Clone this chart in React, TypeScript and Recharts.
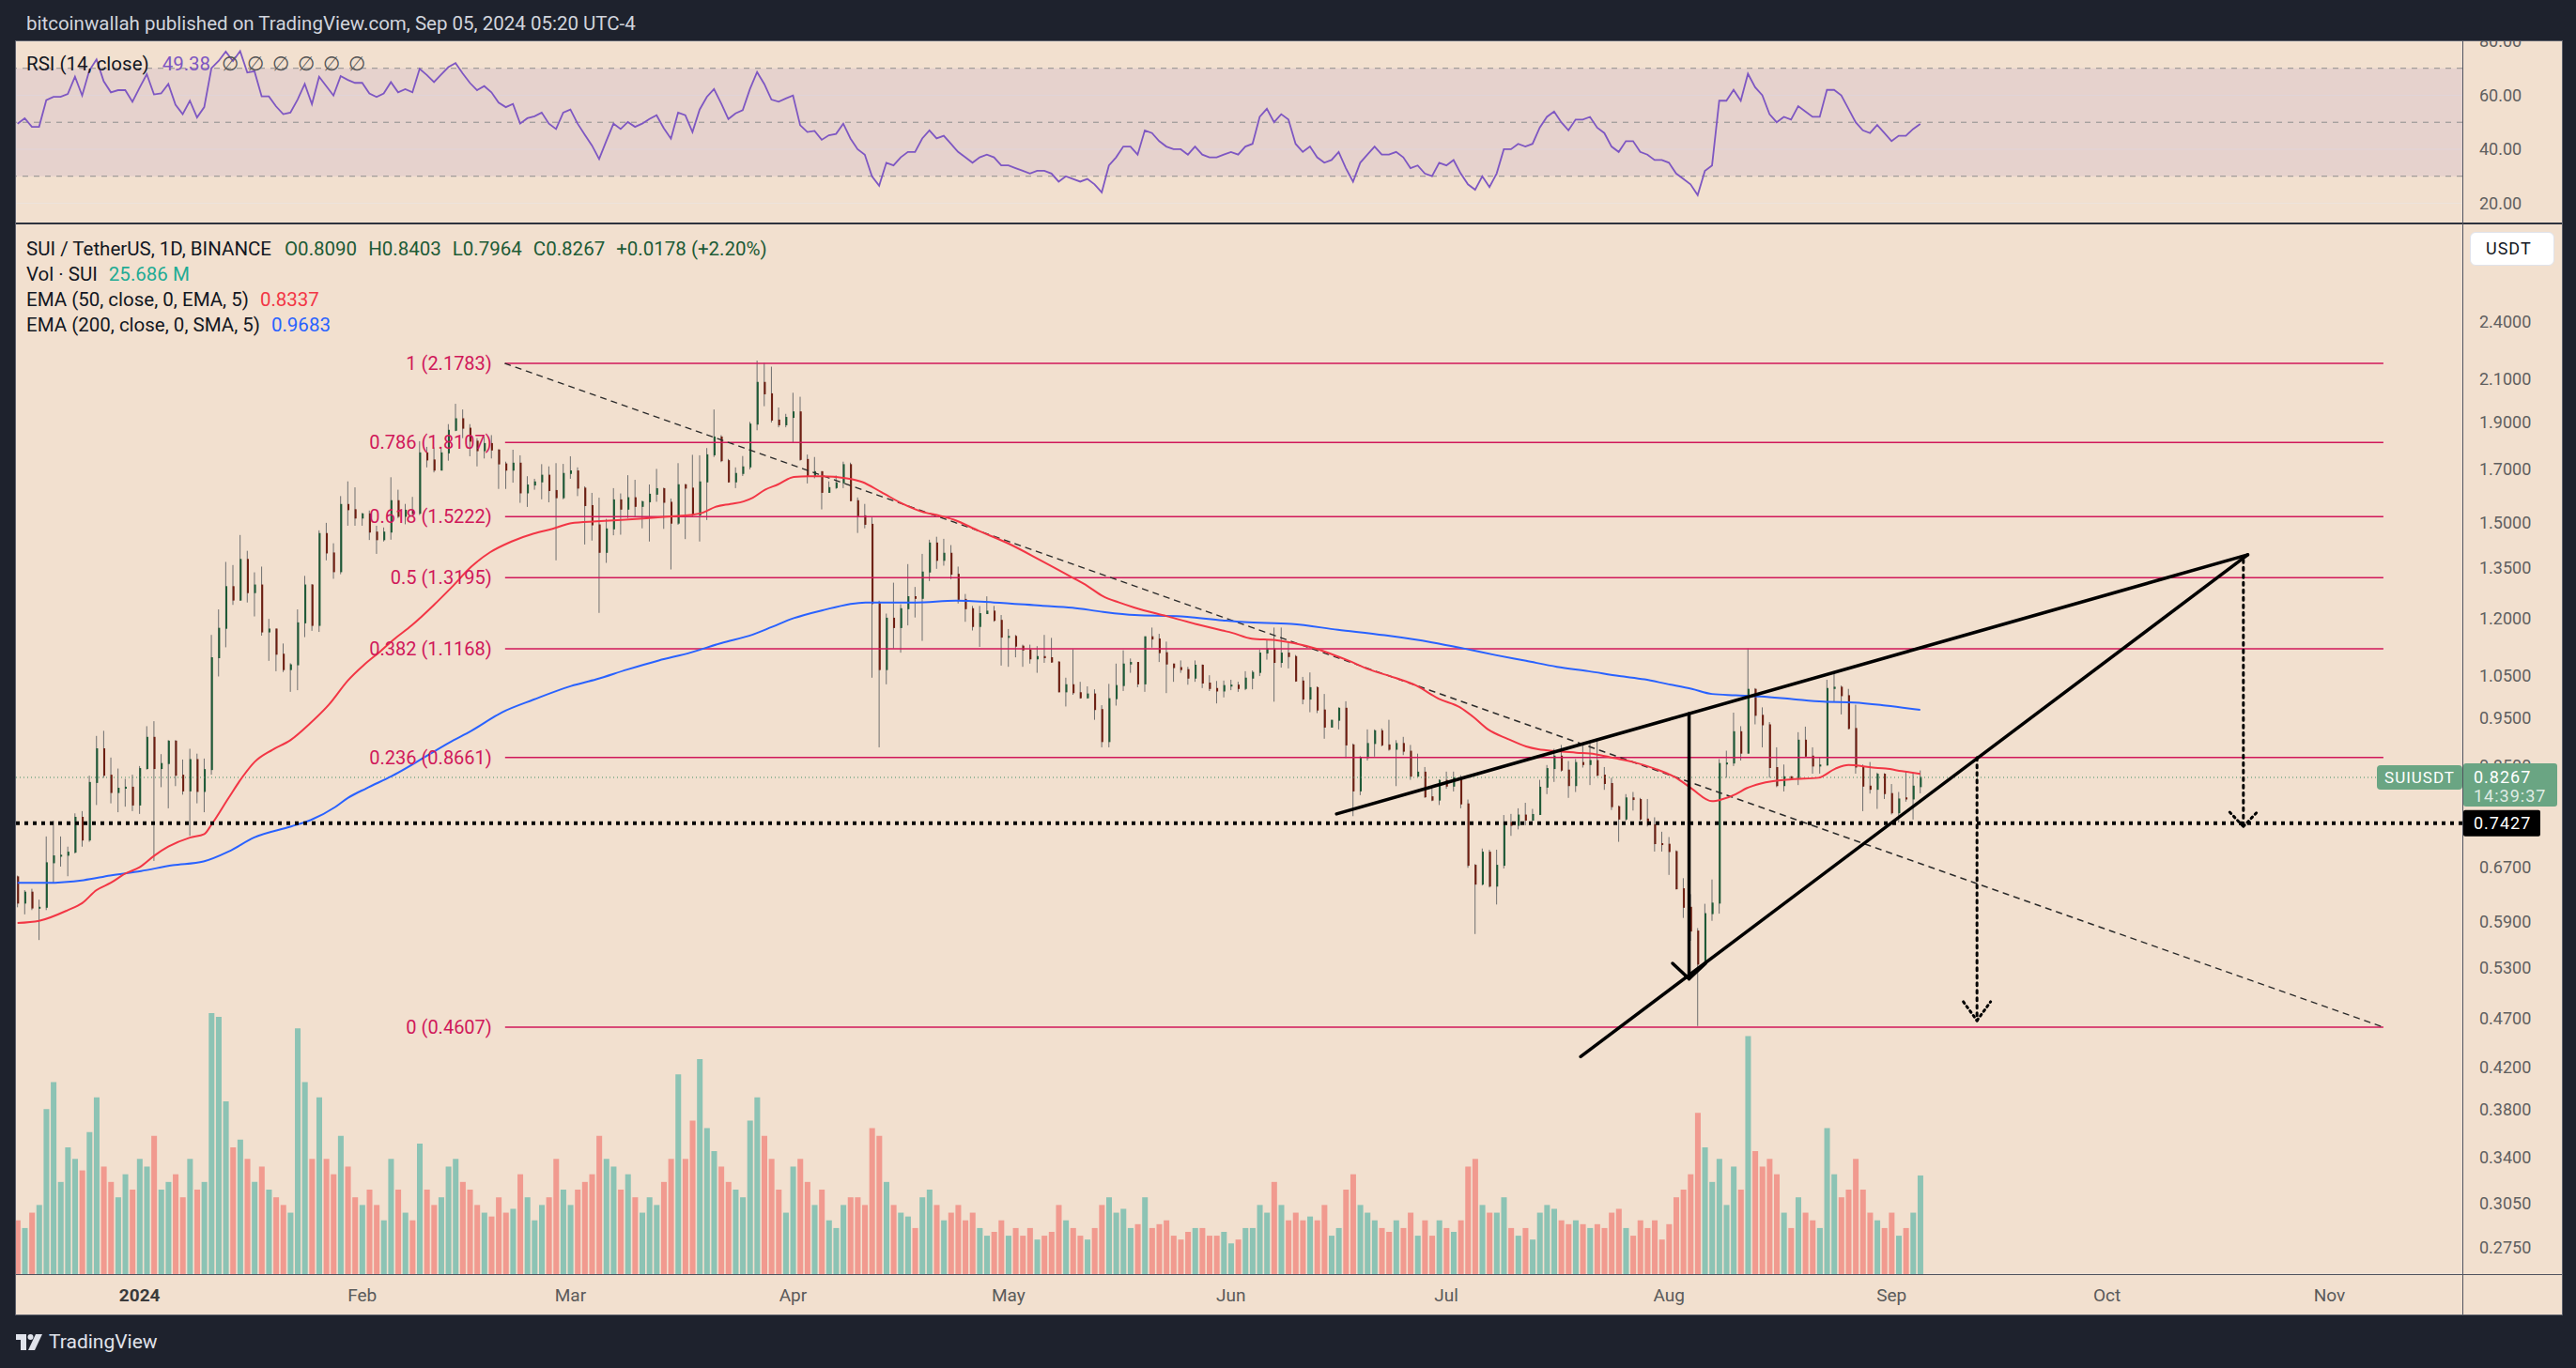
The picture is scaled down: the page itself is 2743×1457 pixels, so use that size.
import {
  Bar,
  CartesianGrid,
  Cell,
  ComposedChart,
  Line,
  LineChart,
  ReferenceArea,
  ReferenceLine,
  XAxis,
  YAxis,
} from "recharts";

// day index: 0 = Jan 1 2024, first candle is Dec 15 2023
const firstDay = -17;

const opens = [
  0.655, 0.616, 0.632, 0.609, 0.61, 0.677, 0.688, 0.689, 0.694, 0.753,
  0.714, 0.817, 0.884, 0.831, 0.798, 0.806, 0.808, 0.775, 0.844, 0.908,
  0.844, 0.854, 0.9, 0.831, 0.801, 0.862, 0.8, 0.842, 1.094, 1.172,
  1.292, 1.252, 1.377, 1.274, 1.297, 1.162, 1.17, 1.103, 1.064, 1.076,
  1.187, 1.297, 1.18, 1.463, 1.398, 1.338, 1.566, 1.547, 1.517, 1.532,
  1.468, 1.442, 1.468, 1.58, 1.523, 1.545, 1.534, 1.767, 1.738, 1.697,
  1.767, 1.863, 1.914, 1.872, 1.816, 1.776, 1.806, 1.779, 1.722, 1.697,
  1.725, 1.609, 1.639, 1.651, 1.677, 1.618, 1.591, 1.684, 1.694, 1.627,
  1.562, 1.493, 1.4, 1.479, 1.583, 1.549, 1.591, 1.559, 1.576, 1.604,
  1.625, 1.574, 1.499, 1.64, 1.627, 1.528, 1.651, 1.759, 1.834, 1.735,
  1.651, 1.684, 1.71, 1.89, 2.084, 2.029, 1.908, 1.887, 1.92, 1.945,
  1.74, 1.675, 1.691, 1.611, 1.629, 1.647, 1.719, 1.58, 1.525, 1.495,
  1.242, 1.064, 1.2, 1.174, 1.227, 1.262, 1.257, 1.337, 1.431, 1.374,
  1.397, 1.33, 1.254, 1.227, 1.177, 1.213, 1.22, 1.194, 1.148, 1.15,
  1.124, 1.114, 1.091, 1.097, 1.094, 1.083, 1.01, 1.027, 1.008, 0.996,
  1.005, 0.969, 0.899, 0.994, 1.025, 1.078, 1.082, 1.029, 1.149, 1.143,
  1.107, 1.078, 1.069, 1.064, 1.043, 1.075, 1.031, 1.018, 1.012, 1.025,
  1.026, 1.018, 1.043, 1.057, 1.106, 1.117, 1.082, 1.106, 1.097, 1.036,
  0.993, 1.02, 0.968, 0.93, 0.945, 0.972, 0.892, 0.801, 0.866, 0.895,
  0.922, 0.892, 0.883, 0.895, 0.879, 0.829, 0.837, 0.79, 0.784, 0.821,
  0.81, 0.826, 0.777, 0.673, 0.644, 0.694, 0.641, 0.673, 0.744, 0.739,
  0.757, 0.748, 0.758, 0.808, 0.844, 0.869, 0.841, 0.811, 0.856, 0.852,
  0.86, 0.831, 0.815, 0.772, 0.75, 0.788, 0.785, 0.75, 0.74, 0.708,
  0.707, 0.695, 0.637, 0.61, 0.577, 0.534, 0.601, 0.616, 0.854, 0.855,
  0.92, 0.875, 1.016, 0.956, 0.935, 0.846, 0.811, 0.828, 0.824, 0.902,
  0.869, 0.849, 0.851, 1.018, 1.021, 1.001, 0.927, 0.847, 0.81, 0.804,
  0.833, 0.796, 0.761, 0.788, 0.786, 0.809,
];

const highs = [
  0.657, 0.635, 0.637, 0.621, 0.72, 0.747, 0.72, 0.703, 0.76, 0.764,
  0.83, 0.911, 0.922, 0.866, 0.844, 0.824, 0.832, 0.849, 0.932, 0.943,
  0.873, 0.902, 0.902, 0.862, 0.884, 0.874, 0.864, 1.154, 1.225, 1.369,
  1.359, 1.458, 1.405, 1.336, 1.354, 1.198, 1.171, 1.131, 1.08, 1.225,
  1.325, 1.3, 1.474, 1.5, 1.43, 1.597, 1.653, 1.63, 1.535, 1.544,
  1.49, 1.484, 1.669, 1.621, 1.568, 1.594, 1.816, 1.792, 1.79, 1.792,
  1.89, 1.982, 1.956, 1.89, 1.829, 1.836, 1.842, 1.782, 1.731, 1.78,
  1.757, 1.673, 1.663, 1.721, 1.712, 1.725, 1.722, 1.753, 1.708, 1.634,
  1.609, 1.591, 1.514, 1.627, 1.607, 1.677, 1.659, 1.58, 1.641, 1.702,
  1.629, 1.588, 1.725, 1.643, 1.759, 1.757, 1.787, 1.956, 1.842, 1.742,
  1.708, 1.754, 1.9, 2.193, 2.181, 2.162, 1.965, 1.936, 2.034, 2.015,
  1.76, 1.75, 1.693, 1.653, 1.676, 1.731, 1.727, 1.592, 1.568, 1.519,
  1.25, 1.213, 1.304, 1.24, 1.362, 1.291, 1.395, 1.442, 1.452, 1.445,
  1.424, 1.354, 1.27, 1.235, 1.235, 1.263, 1.235, 1.209, 1.17, 1.154,
  1.128, 1.128, 1.124, 1.154, 1.146, 1.085, 1.044, 1.116, 1.034, 1.023,
  1.016, 0.979, 1.029, 1.079, 1.113, 1.092, 1.083, 1.15, 1.174, 1.157,
  1.136, 1.079, 1.087, 1.071, 1.087, 1.077, 1.05, 1.036, 1.037, 1.039,
  1.034, 1.06, 1.062, 1.115, 1.14, 1.174, 1.174, 1.132, 1.101, 1.046,
  1.057, 1.023, 1.005, 0.946, 0.974, 0.988, 0.895, 0.869, 0.925, 0.925,
  0.927, 0.946, 0.902, 0.909, 0.892, 0.874, 0.847, 0.806, 0.823, 0.838,
  0.838, 0.831, 0.785, 0.675, 0.7, 0.698, 0.698, 0.757, 0.759, 0.769,
  0.779, 0.768, 0.822, 0.851, 0.884, 0.892, 0.859, 0.863, 0.895, 0.895,
  0.905, 0.847, 0.826, 0.774, 0.795, 0.799, 0.788, 0.786, 0.753, 0.728,
  0.719, 0.697, 0.653, 0.629, 0.581, 0.615, 0.651, 0.863, 0.88, 0.962,
  0.932, 1.118, 1.019, 0.974, 0.941, 0.887, 0.852, 0.829, 0.919, 0.931,
  0.887, 0.866, 1.039, 1.06, 1.025, 1.017, 0.98, 0.852, 0.857, 0.836,
  0.835, 0.814, 0.799, 0.838, 0.835, 0.8403,
];

const lows = [
  0.61, 0.6, 0.606, 0.565, 0.606, 0.645, 0.671, 0.656, 0.692, 0.703,
  0.711, 0.775, 0.826, 0.778, 0.762, 0.772, 0.764, 0.759, 0.842, 0.68,
  0.808, 0.769, 0.81, 0.794, 0.721, 0.778, 0.762, 0.832, 1.047, 1.121,
  1.238, 1.25, 1.245, 1.205, 1.152, 1.086, 1.06, 1.058, 1.01, 1.014,
  1.148, 1.165, 1.162, 1.374, 1.316, 1.33, 1.49, 1.49, 1.49, 1.441,
  1.395, 1.436, 1.442, 1.517, 1.495, 1.528, 1.528, 1.708, 1.688, 1.696,
  1.735, 1.859, 1.829, 1.753, 1.712, 1.744, 1.744, 1.624, 1.624, 1.648,
  1.572, 1.557, 1.621, 1.585, 1.574, 1.374, 1.585, 1.663, 1.597, 1.426,
  1.439, 1.215, 1.366, 1.457, 1.459, 1.517, 1.523, 1.481, 1.436, 1.576,
  1.479, 1.345, 1.493, 1.444, 1.523, 1.436, 1.51, 1.75, 1.729, 1.648,
  1.627, 1.674, 1.7, 1.863, 1.971, 1.897, 1.876, 1.876, 1.809, 1.735,
  1.645, 1.665, 1.548, 1.609, 1.624, 1.627, 1.578, 1.465, 1.481, 1.044,
  0.887, 1.028, 1.118, 1.107, 1.18, 1.202, 1.138, 1.309, 1.347, 1.357,
  1.315, 1.242, 1.19, 1.166, 1.122, 1.212, 1.19, 1.074, 1.071, 1.095,
  1.071, 1.079, 1.056, 1.081, 1.081, 1.009, 0.976, 1.003, 0.994, 0.994,
  0.946, 0.887, 0.887, 0.978, 1.012, 1.056, 1.021, 1.01, 1.12, 1.083,
  1.007, 1.034, 1.056, 1.027, 1.034, 1.019, 1.012, 0.983, 0.997, 1.014,
  1.01, 1.014, 1.016, 1.048, 1.089, 0.987, 1.069, 1.067, 1.034, 0.981,
  0.963, 0.961, 0.905, 0.929, 0.925, 0.865, 0.755, 0.793, 0.86, 0.868,
  0.889, 0.88, 0.81, 0.871, 0.822, 0.828, 0.788, 0.782, 0.775, 0.805,
  0.8, 0.769, 0.669, 0.573, 0.642, 0.639, 0.614, 0.668, 0.721, 0.732,
  0.739, 0.746, 0.757, 0.795, 0.818, 0.838, 0.788, 0.799, 0.846, 0.812,
  0.829, 0.803, 0.766, 0.711, 0.747, 0.765, 0.747, 0.737, 0.695, 0.695,
  0.658, 0.636, 0.595, 0.564, 0.462, 0.533, 0.591, 0.601, 0.826, 0.849,
  0.86, 0.874, 0.936, 0.887, 0.826, 0.808, 0.8, 0.822, 0.812, 0.866,
  0.834, 0.834, 0.85, 0.987, 0.958, 0.925, 0.834, 0.764, 0.796, 0.768,
  0.786, 0.758, 0.744, 0.781, 0.749, 0.7964,
];

const closes = [
  0.616, 0.632, 0.609, 0.61, 0.677, 0.688, 0.689, 0.694, 0.753, 0.714,
  0.817, 0.884, 0.831, 0.798, 0.806, 0.808, 0.775, 0.844, 0.908, 0.844,
  0.854, 0.9, 0.831, 0.801, 0.862, 0.8, 0.842, 1.094, 1.172, 1.292,
  1.252, 1.377, 1.274, 1.297, 1.162, 1.17, 1.103, 1.064, 1.076, 1.187,
  1.297, 1.18, 1.463, 1.398, 1.338, 1.566, 1.547, 1.517, 1.532, 1.468,
  1.442, 1.468, 1.58, 1.523, 1.545, 1.534, 1.767, 1.738, 1.697, 1.767,
  1.863, 1.914, 1.872, 1.816, 1.776, 1.806, 1.779, 1.722, 1.697, 1.725,
  1.609, 1.639, 1.651, 1.677, 1.618, 1.591, 1.684, 1.694, 1.627, 1.562,
  1.493, 1.4, 1.479, 1.583, 1.549, 1.591, 1.559, 1.576, 1.604, 1.625,
  1.574, 1.499, 1.64, 1.627, 1.528, 1.651, 1.759, 1.834, 1.735, 1.651,
  1.684, 1.71, 1.89, 2.084, 2.029, 1.908, 1.887, 1.92, 1.945, 1.74,
  1.675, 1.691, 1.611, 1.629, 1.647, 1.719, 1.58, 1.525, 1.495, 1.242,
  1.064, 1.2, 1.174, 1.227, 1.262, 1.257, 1.337, 1.431, 1.374, 1.397,
  1.33, 1.254, 1.227, 1.177, 1.213, 1.22, 1.194, 1.148, 1.15, 1.124,
  1.114, 1.091, 1.097, 1.094, 1.083, 1.01, 1.027, 1.008, 0.996, 1.005,
  0.969, 0.899, 0.994, 1.025, 1.078, 1.082, 1.029, 1.149, 1.143, 1.107,
  1.078, 1.069, 1.064, 1.043, 1.075, 1.031, 1.018, 1.012, 1.025, 1.026,
  1.018, 1.043, 1.057, 1.106, 1.117, 1.082, 1.106, 1.097, 1.036, 0.993,
  1.02, 0.968, 0.93, 0.945, 0.972, 0.892, 0.801, 0.866, 0.895, 0.922,
  0.892, 0.883, 0.895, 0.879, 0.829, 0.837, 0.79, 0.784, 0.821, 0.81,
  0.826, 0.777, 0.673, 0.644, 0.694, 0.641, 0.673, 0.744, 0.739, 0.757,
  0.748, 0.758, 0.808, 0.844, 0.869, 0.841, 0.811, 0.856, 0.852, 0.86,
  0.831, 0.815, 0.772, 0.75, 0.788, 0.785, 0.75, 0.74, 0.708, 0.707,
  0.695, 0.637, 0.61, 0.577, 0.534, 0.601, 0.616, 0.854, 0.855, 0.92,
  0.875, 1.016, 0.956, 0.935, 0.846, 0.811, 0.828, 0.824, 0.902, 0.869,
  0.849, 0.851, 1.018, 1.021, 1.001, 0.927, 0.847, 0.81, 0.804, 0.833,
  0.796, 0.761, 0.786, 0.786, 0.81, 0.8267,
];

// volume, millions of SUI
const volumes = [
  14, 12, 16, 18, 43, 50, 24, 33, 30, 27,
  37, 46, 28, 24, 20, 26, 22, 30, 28, 36,
  22, 24, 26, 20, 30, 22, 24, 68, 67, 45,
  33, 35, 30, 24, 28, 22, 20, 18, 16, 64,
  50, 30, 46, 30, 26, 36, 28, 20, 18, 22,
  18, 14, 30, 22, 16, 14, 34, 22, 18, 20,
  28, 30, 24, 22, 18, 16, 15, 20, 16, 17,
  26, 20, 14, 18, 20, 30, 22, 18, 22, 24,
  26, 36, 30, 28, 22, 26, 20, 16, 20, 18,
  24, 30, 52, 30, 40, 56, 38, 32, 28, 24,
  22, 20, 40, 46, 36, 30, 22, 16, 28, 30,
  24, 18, 22, 14, 12, 18, 20, 20, 18, 38,
  36, 24, 18, 16, 15, 12, 20, 22, 18, 14,
  16, 18, 14, 16, 12, 10, 11, 14, 10, 12,
  10, 12, 9, 10, 11, 18, 14, 12, 10, 9,
  12, 18, 20, 16, 17, 12, 13, 20, 12, 13,
  14, 10, 9, 11, 12, 12, 10, 10, 11, 8,
  9, 12, 12, 18, 16, 24, 18, 14, 16, 14,
  15, 14, 18, 10, 12, 22, 26, 18, 16, 14,
  12, 11, 14, 12, 16, 10, 14, 10, 14, 12,
  11, 14, 28, 30, 18, 16, 16, 20, 12, 10,
  12, 9, 16, 18, 17, 14, 13, 14, 13, 12,
  13, 12, 16, 17, 12, 10, 14, 12, 14, 9,
  13, 20, 22, 26, 42, 33, 24, 30, 18, 28,
  22, 62, 32, 28, 30, 26, 16, 12, 20, 16,
  14, 12, 38, 26, 20, 22, 30, 22, 16, 14,
  12, 16, 10, 12, 16, 25.686,
];

const rsiValues = [
  49.5, 51.5, 48.3, 48.3, 58.2, 59.4, 59.4, 60.5, 66.9, 59.9,
  69.2, 73.3, 65.2, 61.1, 61.9, 61.9, 57.6, 62.8, 67.8, 60.3,
  60.7, 64.2, 56.5, 53.0, 58.0, 51.8, 55.6, 70.0, 72.7, 76.2,
  72.7, 76.4, 68.4, 68.9, 59.6, 59.6, 55.9, 53.0, 53.6, 58.4,
  64.2, 56.7, 66.9, 63.4, 59.9, 67.1, 65.7, 64.6, 64.6, 60.7,
  59.4, 60.7, 64.9, 61.1, 62.3, 61.1, 69.8, 67.5, 64.9, 67.7,
  70.4, 71.9, 68.1, 64.6, 61.9, 63.4, 61.1, 57.3, 55.6, 56.8,
  49.5, 51.5, 52.2, 53.6, 49.5, 47.5, 53.6, 54.7, 49.5, 45.4,
  41.4, 36.4, 43.1, 49.5, 47.5, 50.1, 48.3, 49.5, 51.2, 52.6,
  47.8, 43.9, 53.6, 52.6, 46.4, 54.7, 59.4, 62.3, 57.0, 51.2,
  53.3, 54.5, 62.3, 68.6, 64.2, 58.4, 57.6, 58.8, 59.9, 48.9,
  46.4, 46.8, 43.5, 45.2, 45.7, 49.5, 44, 40, 38, 30,
  26.5, 35, 34, 37, 39, 39, 44, 47, 44, 45,
  42, 39, 37, 35, 37, 38, 37, 34, 34, 33,
  32, 31, 32, 32, 31, 28, 30, 29, 28, 29,
  27, 24, 34, 37, 41, 41, 38, 47, 46, 43,
  41, 40, 40, 38, 41, 38, 37, 37, 38, 39,
  38, 41, 42, 52, 55, 50, 53, 51, 42, 39,
  41, 37, 35, 36, 39, 33, 28, 35, 38, 41,
  38, 38, 39, 37, 33, 34, 31, 30, 35, 34,
  36, 31, 27, 25, 30, 26, 31, 40, 40, 42,
  41, 42, 48, 52, 54, 50, 47, 51, 51, 52,
  48, 46, 41, 39, 43, 43, 39, 38, 36, 36,
  35, 31, 29, 27, 23, 32, 34, 58, 58, 62,
  58, 68, 63, 60, 53, 50, 52, 51, 56, 54,
  52, 52, 62, 62, 60, 55, 50, 47, 46, 49,
  46, 43, 45, 45, 47.5, 49.38,
];

// [day, value]
const ema50Pts = [
  [-17, 0.588], [-14, 0.591], [-10, 0.606], [-8, 0.616], [-6, 0.635], [-4, 0.646], [-2, 0.66],
  [0, 0.67], [2, 0.688], [4, 0.703], [7, 0.718], [9, 0.724], [10, 0.74], [12.4, 0.788],
  [14.4, 0.829], [16, 0.857], [18.5, 0.882], [21, 0.902], [23.8, 0.939], [26.4, 0.981],
  [29, 1.037], [31.2, 1.075], [33.5, 1.11], [35.3, 1.14], [37.9, 1.18], [40.9, 1.236],
  [43.5, 1.291], [46.2, 1.354], [48.8, 1.4], [51.8, 1.436], [54.9, 1.463], [57.5, 1.479],
  [60.1, 1.499], [63.6, 1.505], [67.1, 1.51], [70.6, 1.516], [74.1, 1.523], [76.7, 1.528],
  [78.4, 1.536], [80.2, 1.557], [82.3, 1.568], [84.1, 1.577], [85.4, 1.591], [87.1, 1.621],
  [88.9, 1.641], [91.1, 1.67], [93.2, 1.673], [95, 1.673], [98.5, 1.665], [100.6, 1.651],
  [103.3, 1.612], [106.3, 1.568], [108.9, 1.54], [111.5, 1.525], [113.3, 1.512], [116.8, 1.473],
  [121.1, 1.428], [125.5, 1.374], [129.9, 1.32], [132, 1.294], [134.2, 1.263], [136.4, 1.245],
  [138.6, 1.23], [143, 1.206], [147.3, 1.183], [150.8, 1.166], [152.1, 1.16], [154.9, 1.144],
  [158.2, 1.14], [160.8, 1.132], [163.9, 1.117], [166.9, 1.097], [168.3, 1.087], [171.3, 1.064],
  [174.8, 1.044], [177.8, 1.025], [180.9, 0.994], [183.9, 0.974], [185.7, 0.953], [187.8, 0.925],
  [190.5, 0.905], [193.1, 0.889], [194.8, 0.883], [197.4, 0.879], [200.1, 0.876], [202.7, 0.873],
  [205.3, 0.865], [208, 0.857], [211, 0.844], [214, 0.826], [216.2, 0.805], [219, 0.782],
  [220.3, 0.785], [222.3, 0.795], [223.8, 0.806], [225.8, 0.815], [230.1, 0.823], [233.8, 0.826],
  [236.2, 0.844], [238, 0.851], [241.4, 0.846], [243.2, 0.844], [245.4, 0.839], [248, 0.8337],
];

const ema200Pts = [
  [-17, 0.646], [-13, 0.646], [-7.8, 0.65], [-4.1, 0.657], [0.2, 0.664], [4.6, 0.673],
  [8.9, 0.679], [12.4, 0.695], [15.9, 0.718], [21.1, 0.737], [23.8, 0.748], [27.2, 0.771],
  [29, 0.788], [31.6, 0.806], [35.1, 0.829], [43.5, 0.9], [46.2, 0.922], [50.5, 0.963],
  [54.9, 0.992], [60.1, 1.024], [63.6, 1.04], [67.9, 1.064], [72.3, 1.087], [76.7, 1.107],
  [81, 1.132], [85.4, 1.155], [88.1, 1.176], [91.1, 1.2], [95, 1.222], [101.1, 1.245],
  [108.1, 1.245], [113.7, 1.25], [119, 1.245], [125.5, 1.236], [129.9, 1.23], [134.2, 1.218],
  [138.6, 1.209], [145.1, 1.205], [150.8, 1.194], [153.8, 1.189], [160.4, 1.184], [166.9, 1.168],
  [173.4, 1.153], [180, 1.134], [184.4, 1.118], [188.8, 1.101], [193.1, 1.086], [197.4, 1.071],
  [201.8, 1.06], [206.1, 1.048], [209.6, 1.04], [212.7, 1.029], [216.2, 1.017], [219, 1.005],
  [222.3, 1.002], [225.8, 0.999], [230.1, 0.993], [234.5, 0.987], [238.8, 0.985], [243.2, 0.978],
  [248, 0.9683],
];

const monthTicks = [0, 31, 60, 91, 121, 152, 182, 213, 244, 274, 305];
const monthLabels = ["2024", "Feb", "Mar", "Apr", "May", "Jun", "Jul", "Aug", "Sep", "Oct", "Nov"];
const priceTicks = [2.8, 2.4, 2.1, 1.9, 1.7, 1.5, 1.35, 1.2, 1.05, 0.95, 0.85, 0.67, 0.59, 0.53, 0.47, 0.42, 0.38, 0.34, 0.305, 0.275];
const rsiTicks = [20, 40, 60, 80];

const fibLevels = ["1", "0.786", "0.618", "0.5", "0.382", "0.236", "0"];
const fibPrices = [2.1783, 1.8107, 1.5222, 1.3195, 1.1168, 0.8661, 0.4607];
const fibFrom = 50.9;
const fibTo = 312.5;

// drawings: [day, price]
const wedgeUpper = [[166.7, 0.759], [293.6, 1.392]];
const wedgeLower = [[200.7, 0.43], [293.6, 1.392]];
const dropLine = [[215.8, 0.96], [215.8, 0.516]];
const dropHead = [[213.5, 0.535], [215.8, 0.516], [218.1, 0.535]];
const targetDown = [[255.9, 0.8661], [255.9, 0.468]];
const targetDownHead = [[254.0, 0.489], [255.9, 0.468], [257.8, 0.489]];
const targetUp = [[293.0, 1.376], [293.0, 0.737]];
const targetUpHead = [[291.1, 0.762], [293.0, 0.737], [294.9, 0.762]];
const fibTrend = [[fibFrom, 2.1783], [fibTo, 0.4607]];

const supportPrice = 0.7427;
const lastPrice = 0.8267;

const FONT = "Roboto, 'Liberation Sans', Arial, sans-serif";
const DARK = "#1e222d";
const PANE = "#f2e0cf";
const GRID = "#ece3dc";
const AXIS_TEXT = "#5f5f5f";
const FIB = "#d0185a";
const UP_FILL = "#5e9e77";
const UP_EDGE = "#1f5a37";
const DN_FILL = "#d4462f";
const DN_EDGE = "#6d1f12";
const WICK = "#6f6f6f";
const TAG_GREEN = "#6aa583";

const X_DOMAIN: [number, number] = [-17.22, 323.5];
const PRICE_DOMAIN: [number, number] = [0.2585, 3.023];
const VOL_TOP = 273.6;

const rows = closes.map((c, i) => ({
  d: firstDay + i,
  o: opens[i],
  h: highs[i],
  l: lows[i],
  c,
  v: volumes[i],
  r: rsiValues[i],
}));
const ema50Rows = ema50Pts.map(([d, v]) => ({ d, v }));
const ema200Rows = ema200Pts.map(([d, v]) => ({ d, v }));

function Candle(props: any) {
  const { x, y, width, height, payload } = props;
  if (x == null || y == null || !payload) return null;
  let top = y;
  let h = height;
  if (h < 0) {
    top = y + h;
    h = -h;
  }
  const { o, c } = payload;
  const hi = payload.h;
  const lo = payload.l;
  const span = Math.log(hi) - Math.log(lo);
  const yOf = (p: number) => (span > 0 ? top + (h * (Math.log(hi) - Math.log(p))) / span : top);
  const up = c >= o;
  const bTop = yOf(Math.max(o, c));
  const bBot = yOf(Math.min(o, c));
  const cx = x + width / 2;
  return (
    <g>
      <line x1={cx} x2={cx} y1={top} y2={top + h} stroke={WICK} strokeWidth={1} />
      <rect
        x={x + 0.5}
        y={bTop}
        width={Math.max(width - 1, 1)}
        height={Math.max(bBot - bTop, 1)}
        fill={up ? UP_FILL : DN_FILL}
        stroke={up ? UP_EDGE : DN_EDGE}
        strokeWidth={1}
      />
    </g>
  );
}

function SupportTag(props: any) {
  const vb = props.viewBox;
  if (!vb) return null;
  const ax = vb.x + vb.width;
  const y = vb.y;
  return (
    <g>
      <rect x={ax + 1} y={y - 14} width={82} height={28} rx={2} fill="#000" />
      <text x={ax + 12} y={y + 6.5} fill="#fff" fontSize={18} fontFamily={FONT} letterSpacing={1}>
        {supportPrice.toFixed(4)}
      </text>
    </g>
  );
}

function LastTag(props: any) {
  const vb = props.viewBox;
  if (!vb) return null;
  const ax = vb.x + vb.width;
  const y = vb.y;
  return (
    <g>
      <rect x={ax - 91} y={y - 13} width={91} height={26} rx={4} fill={TAG_GREEN} />
      <text x={ax - 45.5} y={y + 6} textAnchor="middle" fill="#fff" fontSize={17} fontFamily={FONT} letterSpacing={1}>
        SUIUSDT
      </text>
      <rect x={ax + 1} y={y - 15} width={100} height={46} rx={3} fill={TAG_GREEN} />
      <text x={ax + 12} y={y + 6} fill="#fff" fontSize={18} fontFamily={FONT} letterSpacing={1}>
        {lastPrice.toFixed(4)}
      </text>
      <text x={ax + 12} y={y + 26} fill="rgba(255,255,255,0.8)" fontSize={18} fontFamily={FONT} letterSpacing={1}>
        14:39:37
      </text>
    </g>
  );
}

function MonthTick(props: any) {
  const { x, y, payload } = props;
  const i = monthTicks.indexOf(payload.value);
  const first = i === 0;
  return (
    <text
      x={x}
      y={y + 29}
      textAnchor="middle"
      fontSize={19}
      fontFamily={FONT}
      fontWeight={first ? 700 : 400}
      fill={first ? "#3b3b3b" : "#5a5a5a"}
    >
      {monthLabels[i]}
    </text>
  );
}

function polySegments(pts: number[][], key: string, stroke: string, width: number, dash?: string) {
  const out = [];
  for (let i = 1; i < pts.length; i++) {
    out.push(
      <ReferenceLine
        key={`${key}-${i}`}
        yAxisId="p"
        segment={[
          { x: pts[i - 1][0], y: pts[i - 1][1] },
          { x: pts[i][0], y: pts[i][1] },
        ]}
        stroke={stroke}
        strokeWidth={width}
        strokeDasharray={dash}
        strokeLinecap="round"
      />
    );
  }
  return out;
}

const legendRow = { position: "absolute" as const, left: 28, fontSize: 20.5, lineHeight: "24px", color: "#131722", whiteSpace: "nowrap" as const };

export default function App() {
  const margin = { top: 0, right: 0, bottom: 0, left: 0 };
  return (
    <div style={{ position: "absolute", left: 0, top: 0, width: 2743, height: 1457, background: DARK, overflow: "hidden", fontFamily: FONT }}>
      <div style={{ position: "absolute", left: 28, top: 13, fontSize: 20.5, lineHeight: "24px", color: "#d1d4dc", whiteSpace: "nowrap" }}>
        bitcoinwallah published on TradingView.com, Sep 05, 2024 05:20 UTC-4
      </div>

      <div style={{ position: "absolute", left: 17, top: 44, width: 2711, height: 1356, background: PANE }} />

      {/* RSI pane */}
      <div style={{ position: "absolute", left: 17, top: 44, width: 2711, height: 194, overflow: "hidden" }}>
        <LineChart width={2711} height={194} data={rows} margin={margin}>
          <CartesianGrid stroke={GRID} />
          <XAxis dataKey="d" type="number" domain={X_DOMAIN} allowDataOverflow ticks={monthTicks} interval={0} height={0} tick={false} axisLine={false} tickLine={false} />
          <YAxis
            orientation="right"
            width={106}
            domain={[12.5, 80]}
            allowDataOverflow
            ticks={rsiTicks}
            interval={0}
            tickLine={false}
            axisLine={false}
            tickMargin={12}
            tick={{ fill: AXIS_TEXT, fontSize: 18, fontFamily: FONT }}
            tickFormatter={(v: number) => v.toFixed(2)}
          />
          <ReferenceArea y1={30} y2={70} fill="#7e57c2" fillOpacity={0.1} stroke="none" />
          <ReferenceLine y={70} stroke="#8e8e8e" strokeDasharray="6 6" />
          <ReferenceLine y={50} stroke="#8e8e8e" strokeDasharray="6 6" />
          <ReferenceLine y={30} stroke="#8e8e8e" strokeDasharray="6 6" />
          <Line dataKey="r" type="linear" stroke="#7e57c2" strokeWidth={1.8} dot={false} activeDot={false} isAnimationActive={false} />
        </LineChart>
      </div>

      {/* grid + volume, beneath the candles */}
      <div style={{ position: "absolute", left: 17, top: 238 }}>
        <ComposedChart width={2711} height={1162} data={rows} margin={margin}>
          <CartesianGrid stroke={GRID} yAxisId="p" />
          <XAxis dataKey="d" type="number" domain={X_DOMAIN} allowDataOverflow ticks={monthTicks} interval={0} height={43} tick={false} axisLine={false} tickLine={false} />
          <YAxis yAxisId="p" orientation="right" width={106} scale="log" domain={PRICE_DOMAIN} allowDataOverflow ticks={priceTicks} interval={0} tick={false} axisLine={false} tickLine={false} />
          <YAxis yAxisId="v" hide domain={[0, VOL_TOP]} allowDataOverflow />
          <Bar yAxisId="v" dataKey="v" barSize={6} isAnimationActive={false}>
            {rows.map((r, i) => (
              <Cell key={i} fill={r.c >= r.o ? "#26a69a" : "#ef5350"} fillOpacity={0.5} />
            ))}
          </Bar>
        </ComposedChart>
      </div>

      {/* price pane */}
      <div style={{ position: "absolute", left: 17, top: 238 }}>
        <ComposedChart width={2711} height={1162} data={rows} margin={margin}>
          <XAxis
            dataKey="d"
            type="number"
            domain={X_DOMAIN}
            allowDataOverflow
            ticks={monthTicks}
            interval={0}
            height={43}
            tick={<MonthTick />}
            tickSize={0}
            tickMargin={0}
            axisLine={false}
            tickLine={false}
          />
          <YAxis
            yAxisId="p"
            orientation="right"
            width={106}
            scale="log"
            domain={PRICE_DOMAIN}
            allowDataOverflow
            ticks={priceTicks}
            interval={0}
            tickLine={false}
            axisLine={false}
            tickMargin={12}
            tick={{ fill: AXIS_TEXT, fontSize: 18, fontFamily: FONT }}
            tickFormatter={(v: number) => (v === 2.8 ? "" : v.toFixed(4))}
          />
          {fibPrices.map((p, i) => (
            <ReferenceLine
              key={`fib-${i}`}
              yAxisId="p"
              segment={[
                { x: fibFrom, y: p },
                { x: fibTo, y: p },
              ]}
              stroke={FIB}
              strokeWidth={1.5}
              label={{ value: `${fibLevels[i]} (${p.toFixed(4)})`, position: "left", offset: 14, fill: FIB, fontSize: 20, fontFamily: FONT }}
            />
          ))}
          {polySegments(fibTrend, "trend", "#2b2b2b", 1.4, "6 6")}
          <ReferenceLine yAxisId="p" y={lastPrice} stroke="#3f8f63" strokeWidth={1} strokeDasharray="1 3" />
          <Bar yAxisId="p" dataKey={(r: any) => [r.l, r.h]} barSize={5} shape={<Candle />} isAnimationActive={false} />
          <Line yAxisId="p" data={ema200Rows} dataKey="v" type="monotone" stroke="#2962ff" strokeWidth={2} dot={false} activeDot={false} isAnimationActive={false} />
          <Line yAxisId="p" data={ema50Rows} dataKey="v" type="monotone" stroke="#f23645" strokeWidth={2} dot={false} activeDot={false} isAnimationActive={false} />
          <ReferenceLine yAxisId="p" y={supportPrice} stroke="#000" strokeWidth={4} strokeDasharray="4 5" />
          {polySegments(wedgeUpper, "wu", "#000", 3.5)}
          {polySegments(wedgeLower, "wl", "#000", 3.5)}
          {polySegments(dropLine, "dl", "#000", 3.5)}
          {polySegments(dropHead, "dh", "#000", 3.5)}
          {polySegments(targetDown, "td", "#000", 3, "3 5")}
          {polySegments(targetDownHead, "tdh", "#000", 3, "2 4")}
          {polySegments(targetUp, "tu", "#000", 3, "3 5")}
          {polySegments(targetUpHead, "tuh", "#000", 3, "2 4")}
        </ComposedChart>
      </div>

      {/* price tags drawn over the scale labels */}
      <div style={{ position: "absolute", left: 17, top: 238 }}>
        <ComposedChart width={2711} height={1162} data={rows} margin={margin}>
          <XAxis dataKey="d" type="number" domain={X_DOMAIN} allowDataOverflow height={43} tick={false} axisLine={false} tickLine={false} />
          <YAxis yAxisId="p" orientation="right" width={106} scale="log" domain={PRICE_DOMAIN} allowDataOverflow tick={false} axisLine={false} tickLine={false} />
          <ReferenceLine yAxisId="p" y={lastPrice} stroke="none" label={<LastTag />} />
          <ReferenceLine yAxisId="p" y={supportPrice} stroke="none" label={<SupportTag />} />
        </ComposedChart>
      </div>

      {/* pane frame */}
      <div style={{ position: "absolute", left: 17, top: 237, width: 2711, height: 2, background: "#2f333e" }} />
      <div style={{ position: "absolute", left: 17, top: 1357, width: 2711, height: 1, background: "#50535e" }} />
      <div style={{ position: "absolute", left: 2622, top: 44, width: 1, height: 1356, background: "#50535e" }} />
      <div style={{ position: "absolute", left: 16, top: 43, width: 2711, height: 1356, border: "1px solid #5d606b" }} />

      {/* legends */}
      <div style={{ ...legendRow, top: 56 }}>
        RSI (14, close)
        <span style={{ color: "#7e57c2", marginLeft: 14 }}>49.38</span>
        <span style={{ color: "#555", marginLeft: 12, letterSpacing: 9 }}>∅∅∅∅∅∅</span>
      </div>
      <div style={{ ...legendRow, top: 253 }}>
        SUI / TetherUS, 1D, BINANCE
        <span style={{ color: "#1d5b36", marginLeft: 14 }}>O0.8090</span>
        <span style={{ color: "#1d5b36", marginLeft: 12 }}>H0.8403</span>
        <span style={{ color: "#1d5b36", marginLeft: 12 }}>L0.7964</span>
        <span style={{ color: "#1d5b36", marginLeft: 12 }}>C0.8267</span>
        <span style={{ color: "#1d5b36", marginLeft: 12 }}>+0.0178 (+2.20%)</span>
      </div>
      <div style={{ ...legendRow, top: 280 }}>
        Vol · SUI
        <span style={{ color: "#22ab94", marginLeft: 12 }}>25.686 M</span>
      </div>
      <div style={{ ...legendRow, top: 307 }}>
        EMA (50, close, 0, EMA, 5)
        <span style={{ color: "#f23645", marginLeft: 12 }}>0.8337</span>
      </div>
      <div style={{ ...legendRow, top: 334 }}>
        EMA (200, close, 0, SMA, 5)
        <span style={{ color: "#2962ff", marginLeft: 12 }}>0.9683</span>
      </div>

      {/* currency badge on the price scale */}
      <div
        style={{
          position: "absolute",
          left: 2630,
          top: 247,
          width: 90,
          height: 36,
          boxSizing: "border-box",
          background: "#fff",
          border: "1px solid #e0e3eb",
          borderRadius: 6,
          fontSize: 18,
          lineHeight: "34px",
          paddingLeft: 16,
          color: "#131722",
          letterSpacing: 1,
        }}
      >
        USDT
      </div>

      {/* footer logo */}
      <svg style={{ position: "absolute", left: 17, top: 1420 }} width={30} height={20}>
        <rect x={0} y={1} width={11} height={6} fill="#e0e3eb" />
        <rect x={5} y={1} width={6} height={17} fill="#e0e3eb" />
        <circle cx={15.5} cy={4} r={3} fill="#e0e3eb" />
        <polygon points="21,1 28,1 20,18 13,18" fill="#e0e3eb" />
      </svg>
      <div style={{ position: "absolute", left: 52, top: 1416, fontSize: 21, lineHeight: "26px", color: "#e0e3eb" }}>TradingView</div>
    </div>
  );
}
